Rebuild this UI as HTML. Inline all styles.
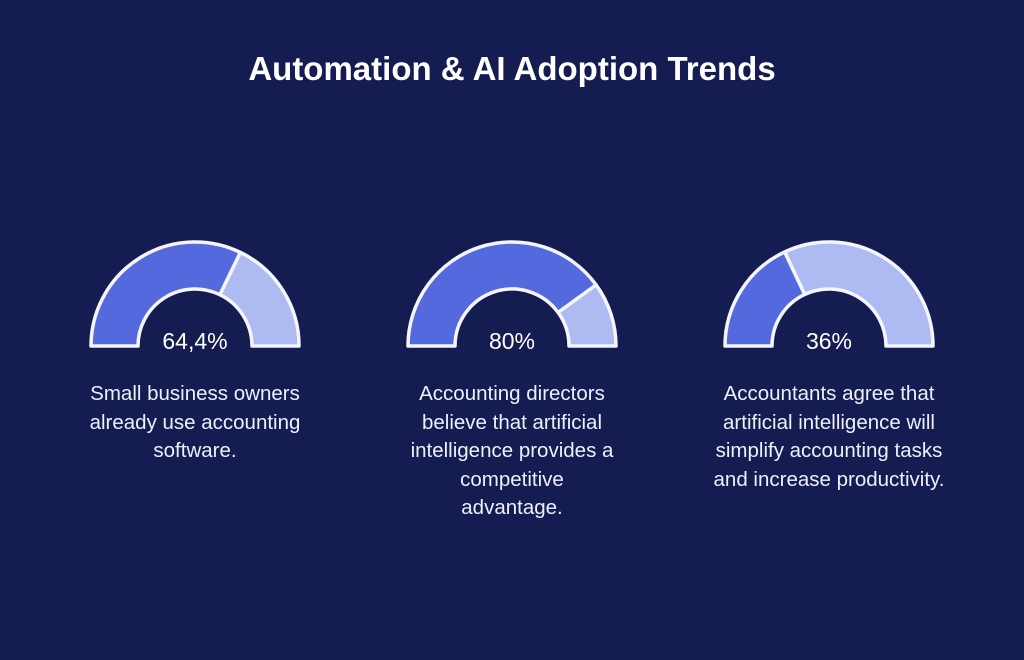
<!DOCTYPE html>
<html><head><meta charset="utf-8">
<style>
html,body{margin:0;padding:0;background:#141c52;}
body{width:1024px;height:660px;overflow:hidden;position:relative;font-family:"Liberation Sans",sans-serif;color:#fff;}
#title{position:absolute;top:50px;left:0;width:1024px;text-align:center;font-size:33px;font-weight:bold;letter-spacing:0px;}
.desc{position:absolute;top:380px;width:300px;text-align:center;font-size:20.5px;line-height:28.5px;color:#eef0fb;white-space:nowrap;}
svg{position:absolute;left:0;top:0;}
</style></head>
<body>
<div id="title">Automation &amp; AI Adoption Trends</div>
<svg id="chart" width="1024" height="660"></svg>
<div class="desc" style="left:45px">Small business owners<br>already use accounting<br>software.</div>
<div class="desc" style="left:362px">Accounting directors<br>believe that artificial<br>intelligence provides a<br>competitive<br>advantage.</div>
<div class="desc" style="left:679px">Accountants agree that<br>artificial intelligence will<br>simplify accounting tasks<br>and increase productivity.</div>
<script>
const values = [64.4, 80, 36];
const valueLabels = ["64,4%", "80%", "36%"];
const centers = [195, 512, 829];
const cy = 346, R = 104, r = 57;
const NS = "http://www.w3.org/2000/svg";
const svg = document.getElementById('chart');
function pt(cx, rad, frac){ const a = Math.PI*(1-frac); return [cx+rad*Math.cos(a), cy-rad*Math.sin(a)]; }
function seg(cx, f0, f1){
  const a=pt(cx,R,f0), b=pt(cx,R,f1), c=pt(cx,r,f1), d=pt(cx,r,f0);
  return `M${a[0]},${a[1]} A${R},${R} 0 0 1 ${b[0]},${b[1]} L${c[0]},${c[1]} A${r},${r} 0 0 0 ${d[0]},${d[1]} Z`;
}
values.forEach((v,i)=>{
  const cx = centers[i], f = v/100;
  const p1 = document.createElementNS(NS,'path');
  p1.setAttribute('d', seg(cx,0,f));
  p1.setAttribute('fill','#5469de');
  p1.setAttribute('stroke','#f4f5ff');p1.setAttribute('stroke-width','3.5');p1.setAttribute('stroke-linejoin','round');
  
  
  svg.appendChild(p1);
  const p2 = document.createElementNS(NS,'path');
  p2.setAttribute('d', seg(cx,f,1));
  p2.setAttribute('fill','#aebaf2');
  p2.setAttribute('stroke','#f4f5ff');p2.setAttribute('stroke-width','3.5');p2.setAttribute('stroke-linejoin','round');
  
  
  svg.appendChild(p2);
  const t = document.createElementNS(NS,'text');
  t.setAttribute('x',cx);t.setAttribute('y',cy+3);
  t.setAttribute('text-anchor','middle');t.setAttribute('fill','#ffffff');
  t.setAttribute('font-size','23');t.setAttribute('font-family','Liberation Sans, sans-serif');
  t.textContent = valueLabels[i];
  
  
  svg.appendChild(t);
});
</script>
</body></html>
